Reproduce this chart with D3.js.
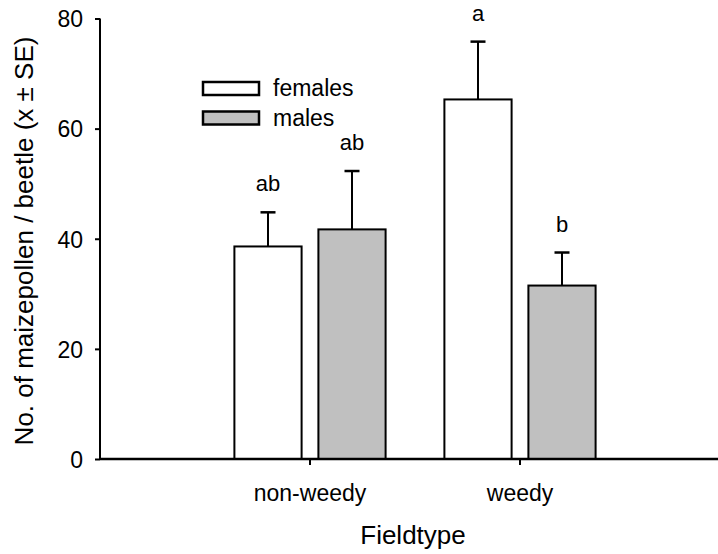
<!DOCTYPE html>
<html>
<head>
<meta charset="utf-8">
<script src="https://cdn.jsdelivr.net/npm/d3@7"></script>
<style>
  html, body { margin: 0; padding: 0; background: #fff; }
  svg { display: block; font-family: "Liberation Sans", Arial, Helvetica, sans-serif; }
</style>
</head>
<body>
<svg id="chart" width="718" height="554"></svg>
<script>
// Field types on the x axis, sexes within each group
const fieldtypes = ["non-weedy", "weedy"];
const sexes = ["females", "males"];

// Mean pollen grains per beetle and standard error, by field type
const femaleMeans = [38.6, 65.3];
const femaleSE = [6.2, 10.5];
const maleMeans = [41.7, 31.5];
const maleSE = [10.6, 6.0];

// Significance letters above each bar
const femaleLetters = ["ab", "a"];
const maleLetters = ["ab", "b"];

const yTicks = [0, 20, 40, 60, 80];

const fills = { females: "#ffffff", males: "#c0c0c0" };

const rows = [];
fieldtypes.forEach((f, i) => {
  rows.push({ field: f, sex: "females", mean: femaleMeans[i], se: femaleSE[i], letter: femaleLetters[i] });
  rows.push({ field: f, sex: "males", mean: maleMeans[i], se: maleSE[i], letter: maleLetters[i] });
});

const svg = d3.select("#chart");

const x0 = d3.scaleBand().domain(fieldtypes).range([100, 730]).paddingInner(0).paddingOuter(0.5);
const x1 = d3.scaleBand().domain(sexes).range([0, x0.bandwidth()]).paddingInner(0.2).paddingOuter(0.35);
const y = d3.scaleLinear().domain([0, 80]).range([459, 18.5]);

// Bars
const g = svg.append("g");
g.selectAll("rect.bar")
  .data(rows)
  .join("rect")
  .attr("class", "bar")
  .attr("x", d => x0(d.field) + x1(d.sex))
  .attr("width", x1.bandwidth())
  .attr("y", d => y(d.mean))
  .attr("height", d => y(0) - y(d.mean))
  .attr("fill", d => fills[d.sex])
  .attr("stroke", "#000")
  .attr("stroke-width", 2);

// Upper error bars
const cx = d => x0(d.field) + x1(d.sex) + x1.bandwidth() / 2;
g.selectAll("line.err")
  .data(rows)
  .join("line")
  .attr("x1", cx).attr("x2", cx)
  .attr("y1", d => y(d.mean)).attr("y2", d => y(d.mean + d.se))
  .attr("stroke", "#000").attr("stroke-width", 2);
g.selectAll("line.cap")
  .data(rows)
  .join("line")
  .attr("x1", d => cx(d) - 7.5).attr("x2", d => cx(d) + 7.5)
  .attr("y1", d => y(d.mean + d.se)).attr("y2", d => y(d.mean + d.se))
  .attr("stroke", "#000").attr("stroke-width", 2.5);

// Letters
g.selectAll("text.letter")
  .data(rows)
  .join("text")
  .attr("x", cx)
  .attr("y", d => y(d.mean + d.se) - 21)
  .attr("text-anchor", "middle")
  .attr("font-size", 22)
  .attr("fill", "#000")
  .text(d => d.letter);

// Y axis
const yAxis = svg.append("g")
  .attr("transform", "translate(100,0)")
  .call(d3.axisLeft(y).tickValues(yTicks).tickSize(5).tickPadding(12).tickFormat(d3.format("d")));
yAxis.select(".domain").attr("d", `M0,${y(80)}V${y(0)}`).attr("stroke", "#000").attr("stroke-width", 2);
yAxis.selectAll(".tick line").attr("stroke", "#000").attr("stroke-width", 2);
yAxis.selectAll(".tick text").attr("font-size", 23).attr("font-family", "Liberation Sans, Arial, sans-serif").attr("fill", "#000").attr("dy", "0.36em");

// X axis
const xAxis = svg.append("g")
  .attr("transform", `translate(0,${y(0)})`)
  .call(d3.axisBottom(x0).tickSize(6).tickPadding(20));
xAxis.select(".domain").attr("d", "M100,0H718").attr("stroke", "#000").attr("stroke-width", 2.5);
xAxis.selectAll(".tick line").attr("stroke", "#000").attr("stroke-width", 2);
xAxis.selectAll(".tick text").attr("font-size", 23).attr("font-family", "Liberation Sans, Arial, sans-serif").attr("fill", "#000");

// Axis titles
svg.append("text")
  .attr("x", 413).attr("y", 544)
  .attr("text-anchor", "middle")
  .attr("font-size", 26)
  .text("Fieldtype");
svg.append("text")
  .attr("transform", "translate(33,241) rotate(-90)")
  .attr("text-anchor", "middle")
  .attr("font-size", 26)
  .text("No. of maizepollen / beetle (x ± SE)");

// Legend
const legend = svg.append("g").attr("transform", "translate(203,82)");
sexes.forEach((s, i) => {
  const row = legend.append("g").attr("transform", `translate(0,${i * 29.5})`);
  row.append("rect")
    .attr("x", 0).attr("y", 0).attr("width", 56).attr("height", 13)
    .attr("fill", fills[s]).attr("stroke", "#000").attr("stroke-width", 2.5);
  row.append("text")
    .attr("x", 70).attr("y", 14)
    .attr("font-size", 23)
    .text(s);
});
</script>
</body>
</html>
